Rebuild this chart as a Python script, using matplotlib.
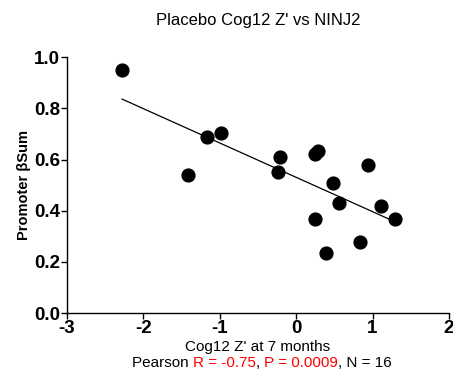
import matplotlib
matplotlib.use('Agg')
import matplotlib.pyplot as plt
import numpy as np

plt.rcParams['font.family'] = ['Liberation Sans', 'DejaVu Sans']

# Cog12 Z' at 7 months vs promoter beta sum
cog12_z = [-2.28, -1.42, -1.17, -0.98, -0.21, -0.24, 0.25, 0.28,
           0.94, 0.48, 0.56, 1.11, 1.30, 0.25, 0.84, 0.39]
beta_sum = [0.949, 0.539, 0.689, 0.704, 0.608, 0.550, 0.620, 0.634,
            0.578, 0.508, 0.431, 0.419, 0.367, 0.367, 0.277, 0.234]
x_ticks = [-3, -2, -1, 0, 1, 2]
y_ticks = [0.0, 0.2, 0.4, 0.6, 0.8, 1.0]

W, H = 453, 371
fig = plt.figure(figsize=(W / 100, H / 100), dpi=100)
ax = fig.add_axes([0.148, 0.156, 0.843, 0.69])

ax.scatter(cog12_z, beta_sum, s=85, color='black', zorder=3)

# linear fit over data range
slope, intercept = np.polyfit(cog12_z, beta_sum, 1)
xs = np.array([min(cog12_z), max(cog12_z)])
ax.plot(xs, slope * xs + intercept, color='black', lw=0.9)

ax.set_xlim(-3, 2)
ax.set_ylim(0, 1.0)
ax.set_xticks(x_ticks)
ax.set_yticks(y_ticks)
ax.set_xticklabels([str(t) for t in x_ticks])
ax.set_yticklabels(['%.1f' % t for t in y_ticks])
ax.tick_params(labelsize=13.5, width=1, length=4, pad=1)
for lab in ax.get_xticklabels() + ax.get_yticklabels():
    lab.set_fontweight('bold')
for s in ['top', 'right']:
    ax.spines[s].set_visible(False)
for s in ['left', 'bottom']:
    ax.spines[s].set_linewidth(1)

fig.text(258 / W, 1 - 21 / H, "Placebo Cog12 Z' vs NINJ2", fontsize=12,
         ha='center', va='center')
fig.text(258 / W, 1 - 347 / H, "Cog12 Z' at 7 months", fontsize=11,
         ha='center', va='center')
ax.set_ylabel('Promoter \u03b2Sum', fontsize=10.5, fontweight='bold', labelpad=2)

# stats line with red parts
pieces = [('Pearson ', 'black'), ('R = -0.75', 'red'), (', ', 'black'),
          ('P = 0.0009', 'red'), (', N = 16', 'black')]
fig.canvas.draw()
renderer = fig.canvas.get_renderer()
texts = []
for txt, col in pieces:
    texts.append(fig.text(0, 1 - 363 / H, txt, color=col, fontsize=11, va='center'))
widths = [t.get_window_extent(renderer).width for t in texts]
x0 = 262 - sum(widths) / 2
for t, w in zip(texts, widths):
    t.set_x(x0 / W)
    x0 += w

fig.savefig('out.png', dpi=100)
